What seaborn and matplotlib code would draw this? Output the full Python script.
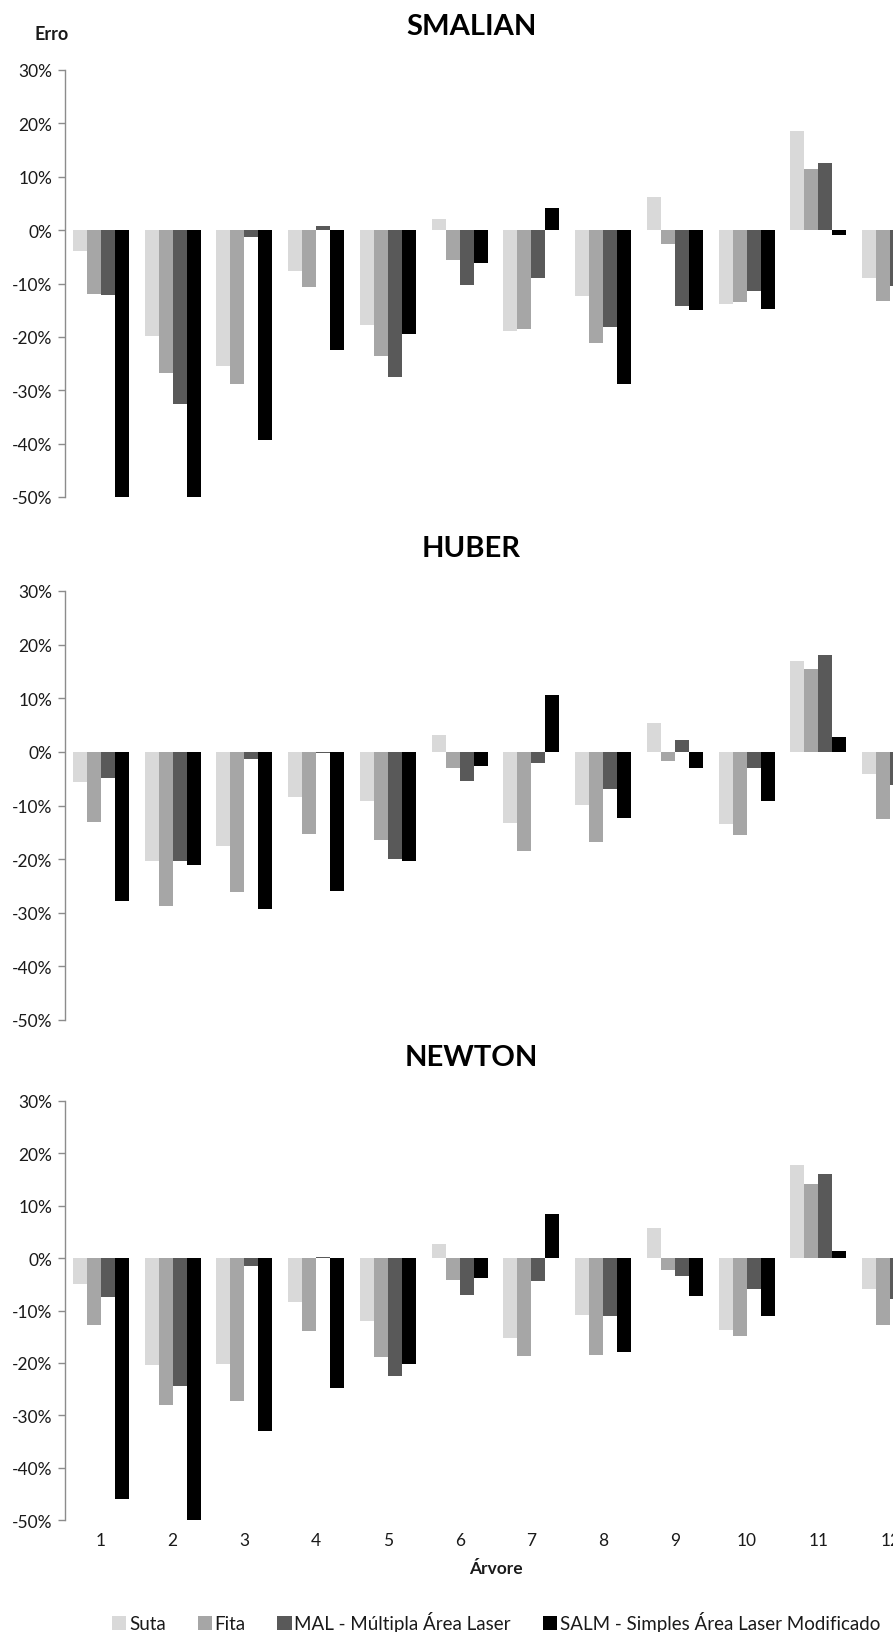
import matplotlib
matplotlib.use("Agg")
import numpy as np
import pandas as pd
import matplotlib.pyplot as plt
import seaborn as sns
from matplotlib.ticker import FuncFormatter, MultipleLocator
from matplotlib.patches import Patch

# Trees (x categories) and measurement methods (hue)
trees = [str(i) for i in range(1, 13)]
methods = ["Suta", "Fita", "MAL - Múltipla Área Laser",
           "SALM - Simples Área Laser Modificado"]
colors = ["#D9D9D9", "#A6A6A6", "#595959", "#000000"]
panel_titles = ["SMALIAN", "HUBER", "NEWTON"]
nan = np.nan

# Volume error (%) per tree, Smalian formula
smalian_suta = [-3.9, -19.9, -25.5, -7.6, -17.8, 2.0, -18.9, -12.4, 6.2, -13.9, 18.6, -9.0]
smalian_fita = [-11.9, -26.7, -28.9, -10.7, -23.6, -5.6, -18.5, -21.1, -2.6, -13.5, 11.5, -13.2]
smalian_mal = [-12.2, -32.5, -1.2, 0.8, -27.6, -10.2, -9.0, -18.2, -14.3, -11.4, 12.6, -10.5]
smalian_salm = [-52.0, -52.0, -39.4, -22.5, -19.4, -6.1, 4.2, -28.8, -15.0, -14.8, -0.9, nan]

# Huber formula
huber_suta = [-5.6, -20.3, -17.5, -8.5, -9.1, 3.1, -13.2, -9.9, 5.3, -13.4, 16.9, -4.2]
huber_fita = [-13.0, -28.8, -26.1, -15.3, -16.4, -3.1, -18.4, -16.8, -1.7, -15.5, 15.5, -12.6]
huber_mal = [-4.8, -20.3, -1.4, -0.3, -19.9, -5.5, -2.0, -7.0, 2.2, -3.1, 18.0, -6.2]
huber_salm = [-27.8, -21.1, -29.3, -25.9, -20.3, -2.6, 10.6, -12.3, -3.1, -9.2, 2.7, nan]

# Newton formula
newton_suta = [-4.9, -20.4, -20.2, -8.3, -12.1, 2.7, -15.2, -10.9, 5.7, -13.8, 17.7, -5.9]
newton_fita = [-12.8, -28.0, -27.3, -13.9, -18.8, -4.1, -18.7, -18.5, -2.2, -14.9, 14.2, -12.7]
newton_mal = [-7.4, -24.5, -1.5, 0.2, -22.6, -7.0, -4.3, -11.1, -3.5, -5.9, 16.0, -7.8]
newton_salm = [-46.0, -51.0, -33.0, -24.8, -20.2, -3.7, 8.4, -17.9, -7.2, -11.1, 1.3, nan]

panels = [
    [smalian_suta, smalian_fita, smalian_mal, smalian_salm],
    [huber_suta, huber_fita, huber_mal, huber_salm],
    [newton_suta, newton_fita, newton_mal, newton_salm],
]


def long_table(series):
    rows = []
    for method, values in zip(methods, series):
        for tree, v in zip(trees, values):
            rows.append({"Árvore": tree, "Método": method, "Erro": v})
    return pd.DataFrame(rows)


sns.set_style("white")
plt.rcParams["font.family"] = ["Lato", "DejaVu Sans"]
text_color = "#1a1a1a"
axis_color = "#8c8c8c"

fig = plt.figure(figsize=(8.93, 16.33), dpi=100)
H = 1633.0
W = 893.0

# (top px, bottom px) of the plotting areas
extents = [(71, 498), (592, 1021), (1102, 1521)]
title_y = [27, 549, 1058]
left_px = 65

for i, (series, (top, bot)) in enumerate(zip(panels, extents)):
    ax = fig.add_axes([left_px / W, 1 - bot / H, (W - left_px) / W, (bot - top) / H])
    df = long_table(series)
    sns.barplot(data=df, x="Árvore", y="Erro", hue="Método", order=trees,
                hue_order=methods, palette=colors, saturation=1, width=0.78,
                errorbar=None, legend=False, ax=ax, linewidth=0)
    ax.set_ylim(-50, 30)
    ax.set_xlim(-0.5, 11.04)
    ax.yaxis.set_major_locator(MultipleLocator(10))
    ax.yaxis.set_major_formatter(FuncFormatter(lambda v, p: f"{int(round(v))}%"))
    for s in ["top", "right", "bottom"]:
        ax.spines[s].set_visible(False)
    ax.spines["left"].set_color(axis_color)
    ax.spines["left"].set_linewidth(1.0)
    ax.tick_params(axis="y", which="major", left=True, length=5, width=1,
                   color=axis_color, labelsize=12.5, labelcolor=text_color, pad=4)
    ax.tick_params(axis="x", bottom=False, length=0)
    ax.set_ylabel("")
    ax.set_xlabel("")
    if i < 2:
        ax.set_xticklabels([])
    else:
        ax.tick_params(axis="x", labelsize=12.5, labelcolor=text_color, pad=9)
    fig.text(0.528, 1 - title_y[i] / H, panel_titles[i], ha="center", va="center",
             fontsize=21, fontweight="bold", color="black")

fig.text(51.6 / W, 1 - 34 / H, "Erro", ha="center", va="center",
         fontsize=13, fontweight="bold", color=text_color)
fig.text(496 / W, 1 - 1569 / H, "Árvore", ha="center", va="center",
         fontsize=12.5, fontweight="bold", color=text_color)

handles = [Patch(facecolor=c, edgecolor="none") for c in colors]
fig.legend(handles, methods, loc="center", bbox_to_anchor=(496 / W, 1 - 1623 / H),
           ncol=4, frameon=False, fontsize=13.5, handlelength=0.75, handleheight=0.75,
           handletextpad=0.15, columnspacing=1.7, labelcolor=text_color,
           borderpad=0, borderaxespad=0)

fig.savefig("out.png", dpi=100)
